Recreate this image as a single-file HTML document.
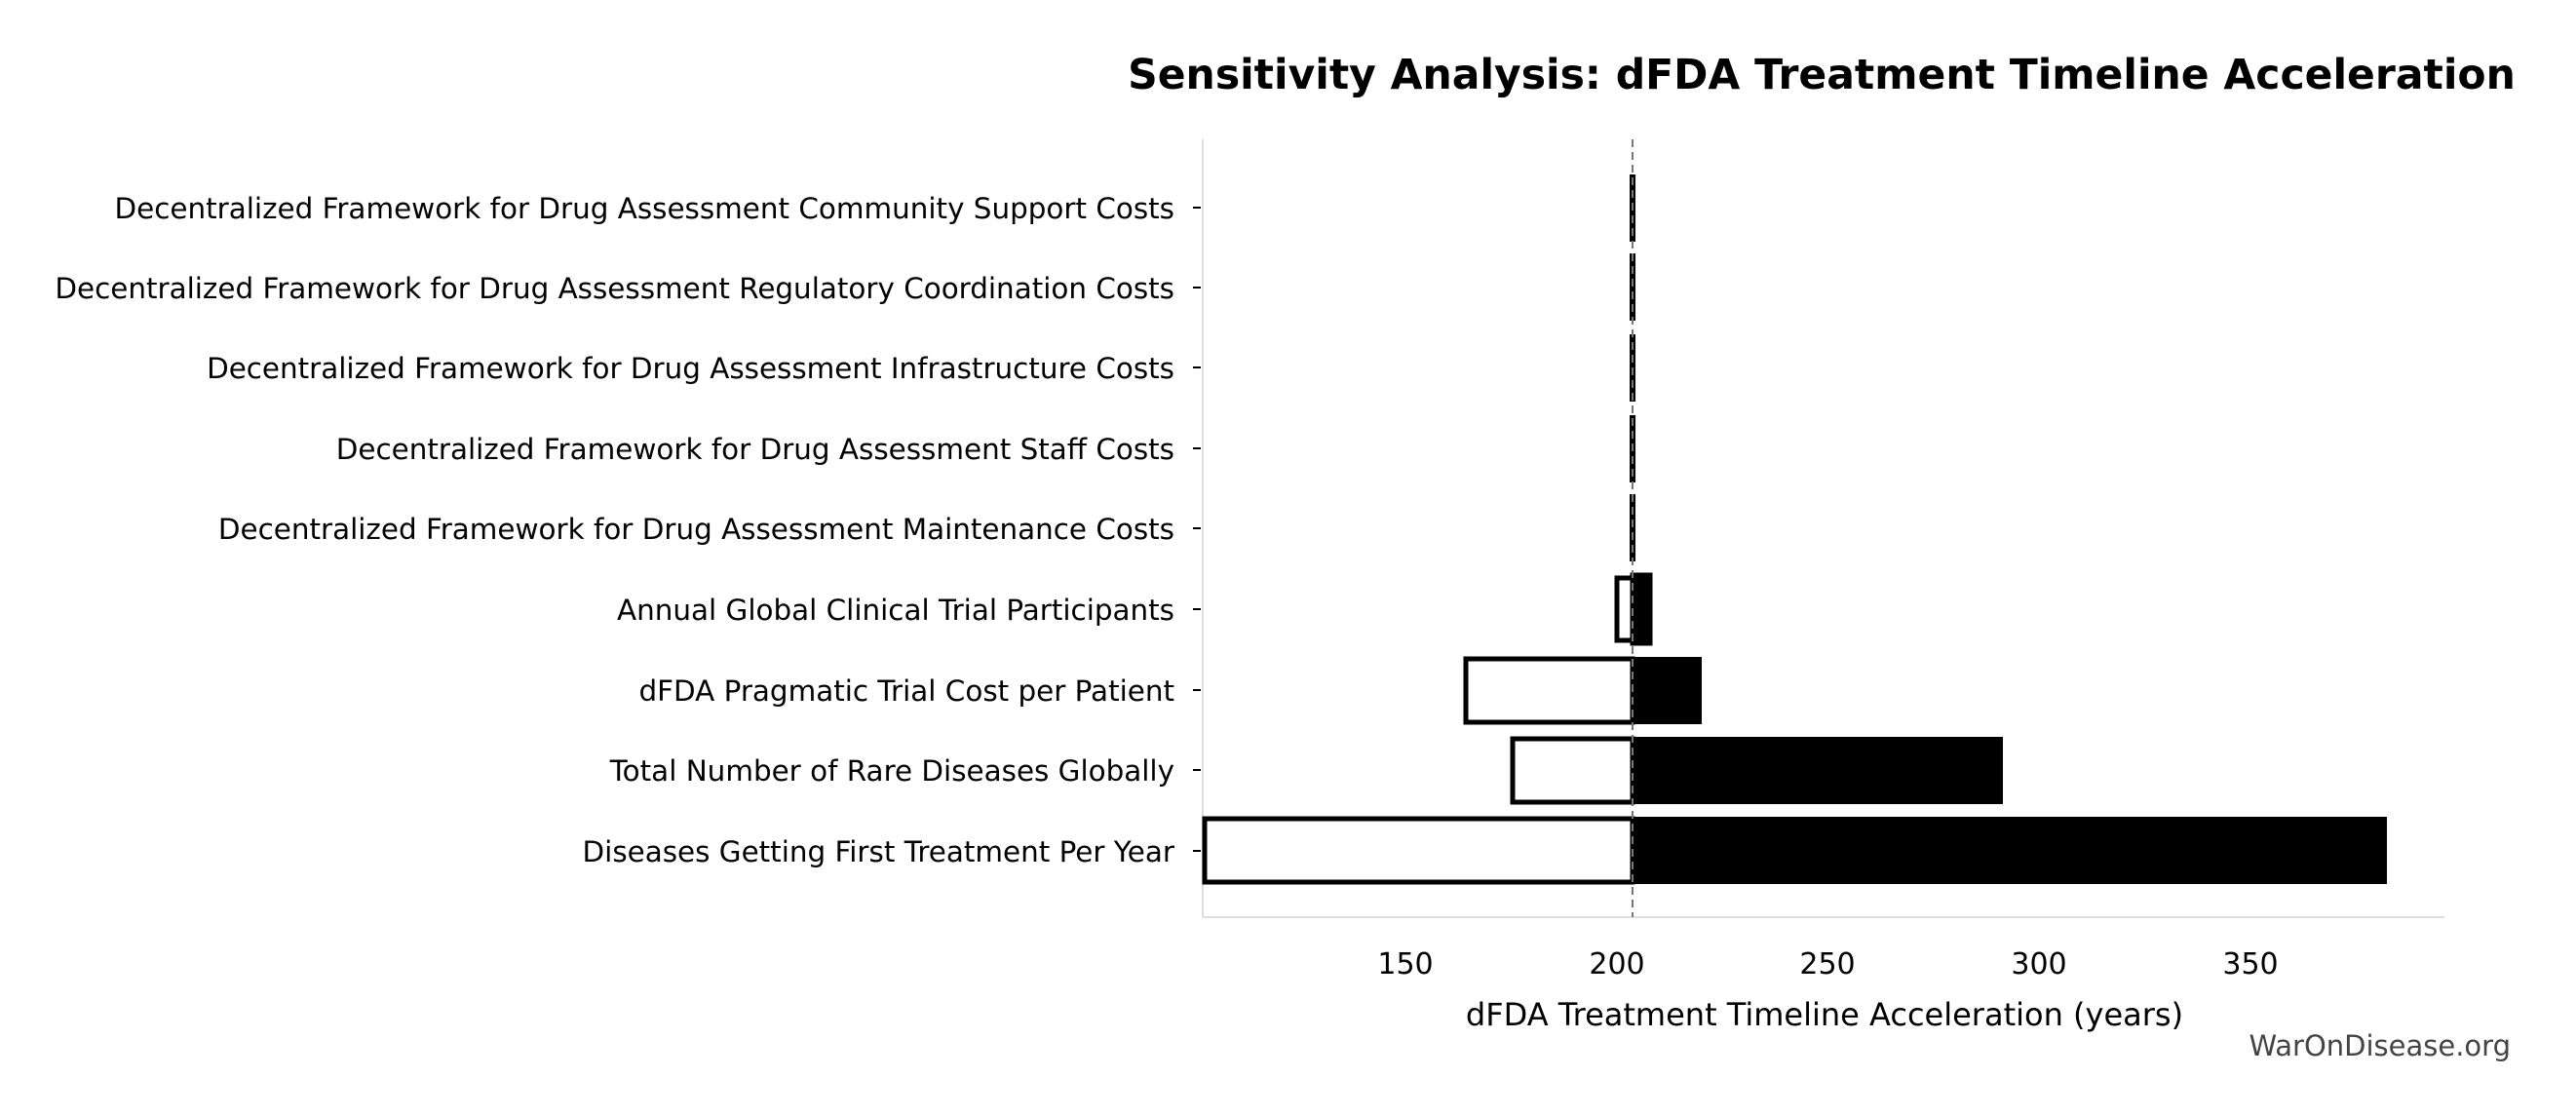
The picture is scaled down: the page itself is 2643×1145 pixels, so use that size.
<!DOCTYPE html>
<html><head><meta charset="utf-8"><style>html,body{margin:0;padding:0;background:#fff}svg{display:block}</style></head>
<body>
<svg width="2643" height="1145" viewBox="0 0 2643 1145" xmlns="http://www.w3.org/2000/svg" font-family="'DejaVu Sans','Liberation Sans',sans-serif">
<rect width="2643" height="1145" fill="#fff"/>
<text x="1869" y="91" text-anchor="middle" font-size="42.5" font-weight="bold">Sensitivity Analysis: dFDA Treatment Timeline Acceleration</text>
<!-- spines -->
<line x1="1234" y1="143" x2="1234" y2="941" stroke="#ddd" stroke-width="2"/>
<line x1="1234" y1="941" x2="2508" y2="941" stroke="#ddd" stroke-width="2"/>
<!-- bars -->
<g stroke-width="5">
<rect x="1672" y="179" width="6" height="69" fill="#000"/>
<rect x="1672" y="260" width="6" height="69" fill="#000"/>
<rect x="1672" y="343" width="6" height="69" fill="#000"/>
<rect x="1672" y="426" width="6" height="69" fill="#000"/>
<rect x="1672" y="507" width="6" height="69" fill="#000"/>
<rect x="1675" y="590" width="18" height="70" fill="#000" stroke="#000"/>
<rect x="1659" y="593" width="16" height="64" fill="#fff" stroke="#000"/>
<rect x="1675" y="674" width="71" height="69" fill="#000"/>
<rect x="1504" y="676" width="171" height="65" fill="#fff" stroke="#000"/>
<rect x="1675" y="756" width="380" height="69" fill="#000"/>
<rect x="1552" y="758" width="123" height="65" fill="#fff" stroke="#000"/>
<rect x="1675" y="838" width="774" height="69" fill="#000"/>
<rect x="1236" y="840" width="439" height="65" fill="#fff" stroke="#000"/>
</g>
<line x1="1675" y1="143" x2="1675" y2="941" stroke="#777" stroke-width="2" stroke-dasharray="8,5"/>
<!-- y ticks & labels -->
<g stroke="#000" stroke-width="2">
<line x1="1224" y1="213" x2="1232" y2="213"/><line x1="1224" y1="295" x2="1232" y2="295"/>
<line x1="1224" y1="377" x2="1232" y2="377"/><line x1="1224" y1="460" x2="1232" y2="460"/>
<line x1="1224" y1="542" x2="1232" y2="542"/><line x1="1224" y1="625" x2="1232" y2="625"/>
<line x1="1224" y1="708" x2="1232" y2="708"/><line x1="1224" y1="790" x2="1232" y2="790"/>
<line x1="1224" y1="873" x2="1232" y2="873"/>
</g>
<g font-size="29.4" text-anchor="end">
<text x="1205" y="224">Decentralized Framework for Drug Assessment Community Support Costs</text>
<text x="1205" y="306">Decentralized Framework for Drug Assessment Regulatory Coordination Costs</text>
<text x="1205" y="388">Decentralized Framework for Drug Assessment Infrastructure Costs</text>
<text x="1205" y="471">Decentralized Framework for Drug Assessment Staff Costs</text>
<text x="1205" y="553">Decentralized Framework for Drug Assessment Maintenance Costs</text>
<text x="1205" y="636">Annual Global Clinical Trial Participants</text>
<text x="1205" y="719">dFDA Pragmatic Trial Cost per Patient</text>
<text x="1205" y="801">Total Number of Rare Diseases Globally</text>
<text x="1205" y="884">Diseases Getting First Treatment Per Year</text>
</g>
<!-- x ticks -->
<g font-size="30" text-anchor="middle">
<text x="1442" y="999">150</text><text x="1659" y="999">200</text><text x="1875" y="999">250</text><text x="2092" y="999">300</text><text x="2309" y="999">350</text>
</g>
<text x="1872" y="1052" text-anchor="middle" font-size="32">dFDA Treatment Timeline Acceleration (years)</text>
<text x="2576" y="1083" text-anchor="end" font-size="29" fill="#444">WarOnDisease.org</text>
</svg>
</body></html>
